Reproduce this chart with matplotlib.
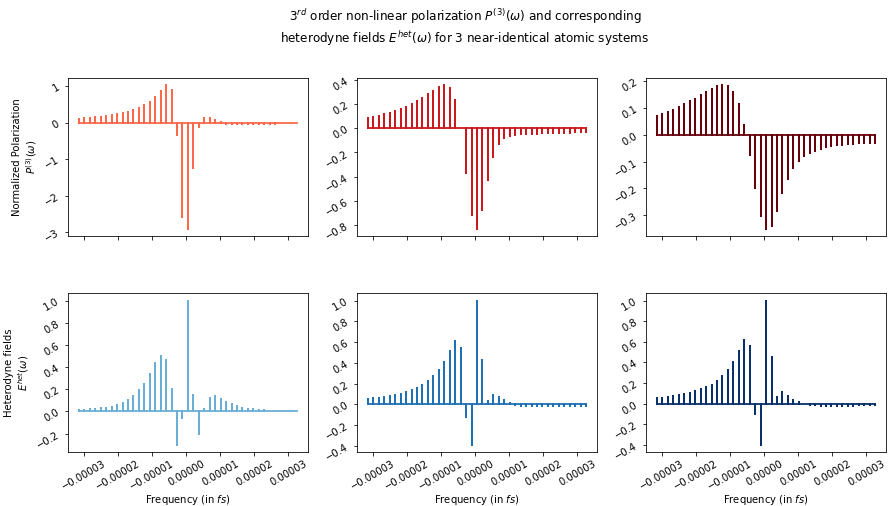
import matplotlib
matplotlib.use("Agg")
import matplotlib.pyplot as plt
from matplotlib.ticker import MultipleLocator
import numpy as np

# spike positions (in units of 1e-6 fs^-1)
freq_u = [-31.45, -29.85, -28.25, -26.65, -25.05, -23.45, -21.85, -20.25, -18.65, -17.05,
          -15.45, -13.85, -12.25, -10.65, -9.05, -7.45, -5.85, -4.25, -2.65, -1.05,
          0.55, 2.15, 3.75, 5.35, 6.95, 8.55, 10.15, 11.75, 13.35, 14.95,
          16.55, 18.15, 19.75, 21.35, 22.95, 24.55, 26.15, 27.75, 29.35, 30.95, 32.55]

# normalized 3rd order polarization, one list per atomic system
pol_1 = [0.11, 0.13, 0.135, 0.15, 0.16, 0.19, 0.21, 0.23, 0.26, 0.30,
         0.34, 0.41, 0.48, 0.58, 0.71, 0.87, 1.03, 0.91, -0.35, -2.59,
         -2.92, -1.24, -0.13, 0.135, 0.13, 0.07, 0.02, -0.03, -0.03, -0.03,
         -0.03, -0.028, -0.028, -0.026, -0.025, -0.024, -0.023, -0.022, -0.021, -0.02, -0.02]
pol_2 = [0.082, 0.093, 0.103, 0.114, 0.128, 0.141, 0.158, 0.177, 0.199, 0.223,
         0.25, 0.28, 0.31, 0.34, 0.356, 0.335, 0.234, 0.0, -0.373, -0.72,
         -0.833, -0.678, -0.427, -0.237, -0.131, -0.082, -0.06, -0.052, -0.046, -0.046,
         -0.044, -0.044, -0.042, -0.042, -0.04, -0.04, -0.038, -0.038, -0.035, -0.03, -0.028]
pol_3 = [0.07, 0.077, 0.085, 0.093, 0.103, 0.113, 0.124, 0.135, 0.148, 0.16,
         0.172, 0.182, 0.185, 0.18, 0.158, 0.113, 0.037, -0.077, -0.199, -0.302,
         -0.352, -0.339, -0.285, -0.218, -0.166, -0.125, -0.098, -0.081, -0.069, -0.059,
         -0.053, -0.047, -0.043, -0.04, -0.038, -0.036, -0.034, -0.032, -0.031, -0.03, -0.029]

# heterodyne fields
het_1 = [0.009, 0.012, 0.018, 0.021, 0.027, 0.033, 0.042, 0.054, 0.072, 0.10,
         0.137, 0.19, 0.25, 0.334, 0.433, 0.50, 0.468, 0.20, -0.30, -0.063,
         1.0, 0.152, -0.206, 0.02, 0.125, 0.137, 0.113, 0.084, 0.063, 0.048,
         0.033, 0.024, 0.018, 0.012, 0.009, 0.006, 0.005, 0.004, 0.003, 0.002, 0.002]
het_2 = [0.051, 0.058, 0.064, 0.074, 0.08, 0.09, 0.103, 0.119, 0.138, 0.16,
         0.186, 0.224, 0.27, 0.33, 0.413, 0.513, 0.609, 0.542, -0.122, -0.388,
         1.0, 0.426, 0.035, 0.087, 0.07, 0.042, 0.013, -0.006, -0.013, -0.016,
         -0.018, -0.019, -0.02, -0.02, -0.02, -0.019, -0.018, -0.017, -0.016, -0.015, -0.014]
het_3 = [0.051, 0.058, 0.064, 0.074, 0.08, 0.09, 0.103, 0.119, 0.138, 0.16,
         0.186, 0.22, 0.266, 0.324, 0.407, 0.513, 0.615, 0.561, -0.103, -0.397,
         1.0, 0.449, 0.061, 0.109, 0.071, 0.038, 0.019, -0.006, -0.013, -0.016,
         -0.018, -0.019, -0.02, -0.02, -0.02, -0.019, -0.018, -0.017, -0.016, -0.015, -0.014]

pol = [pol_1, pol_2, pol_3]
het = [het_1, het_2, het_3]
pol_steps = [1, 0.2, 0.1]
red_cols = [plt.cm.Reds(0.5), plt.cm.Reds(0.75), plt.cm.Reds(1.0)]
blue_cols = [plt.cm.Blues(0.5), plt.cm.Blues(0.75), plt.cm.Blues(1.0)]

freq = np.array(freq_u) * 1e-6


def stems(x, y):
    # line going up and down at every spike, back to baseline in between
    xs = np.repeat(x, 3)
    ys = np.zeros(len(xs))
    ys[1::3] = y
    return xs, ys


fig, axes = plt.subplots(2, 3, sharex=True, figsize=(889 / 72, 506 / 72), dpi=72)
fig.subplots_adjust(left=68 / 889, right=886 / 889, top=0.846, bottom=0.107,
                    wspace=0.205, hspace=0.36)

for i in range(3):
    xs, ys = stems(freq, pol[i])
    axes[0, i].plot(xs, ys, color=red_cols[i], lw=1.8)
    axes[0, i].yaxis.set_major_locator(MultipleLocator(pol_steps[i]))
    xs, ys = stems(freq, het[i])
    axes[1, i].plot(xs, ys, color=blue_cols[i], lw=1.8)
    axes[1, i].yaxis.set_major_locator(MultipleLocator(0.2))
    axes[1, i].set_xlabel("Frequency (in $fs$)", labelpad=1)

for ax in axes.flat:
    ax.xaxis.set_major_locator(MultipleLocator(1e-5))
    ax.ticklabel_format(axis='x', style='plain', useOffset=False)
    ax.tick_params(axis='y', labelrotation=30)
    ax.tick_params(axis='x', labelrotation=30)

axes[0, 0].set_ylabel("Normalized Polarization\n$P^{(3)}(\\omega)$")
axes[1, 0].set_ylabel("Heterodyne fields\n$E^{het}(\\omega)$")

fig.suptitle("$3^{rd}$ order non-linear polarization $P^{(3)}(\\omega)$ and corresponding\n"
             "heterodyne fields $E^{het}(\\omega)$ for 3 near-identical atomic systems",
             x=465 / 889, y=0.985)

fig.savefig("out.png", dpi=72)
